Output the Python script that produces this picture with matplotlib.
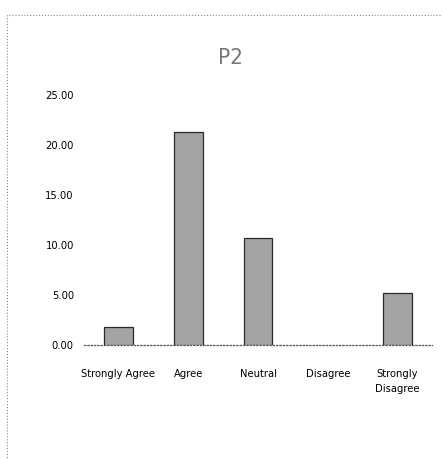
import matplotlib
matplotlib.use("Agg")
import matplotlib.pyplot as plt
from matplotlib.patches import Rectangle

categories = ["Strongly Agree", "Agree", "Neutral", "Disagree", "Strongly\nDisagree"]
values = [1.8, 21.3, 10.7, 0.0, 5.2]
yticks = [0, 5, 10, 15, 20, 25]

plt.rcParams['font.family'] = ['DejaVu Sans']
plt.rcParams['font.stretch'] = 'condensed'

fig = plt.figure(figsize=(4.42, 4.59), dpi=100)
ax = fig.add_axes([0.189, 0.2484, 0.7895, 0.5446])

x = range(len(categories))
ax.bar(x, values, width=0.41, color='#a3a3a3', edgecolor='#2a2a2a',
       linewidth=[0.9 if v > 0 else 0 for v in values], zorder=3)

ax.set_xlim(-0.5, len(categories) - 0.5)
ax.set_ylim(0, 25)
ax.set_yticks(yticks)
ax.set_yticklabels(["%.2f" % t for t in yticks], fontsize=8)
ax.set_xticks(list(x))
ax.set_xticklabels(categories, fontsize=8, linespacing=1.7)
ax.tick_params(axis='y', length=0, pad=7)
ax.tick_params(axis='x', length=0, pad=17)

for s in ['top', 'right', 'left']:
    ax.spines[s].set_visible(False)
ax.spines['bottom'].set_linestyle(':')
ax.spines['bottom'].set_color('#555555')
ax.spines['bottom'].set_linewidth(0.9)

fig.text(0.522, 0.874, "P2", fontsize=16, color='#777777', ha='center', va='center',
         fontweight='light')

# dotted outer frame of the chart area
fig.patches.append(Rectangle((0.016, -0.05), 1.1, 1.017, transform=fig.transFigure,
                             fill=False, linestyle=':', edgecolor='#888888', linewidth=0.8))

fig.savefig("out.png", dpi=100)
